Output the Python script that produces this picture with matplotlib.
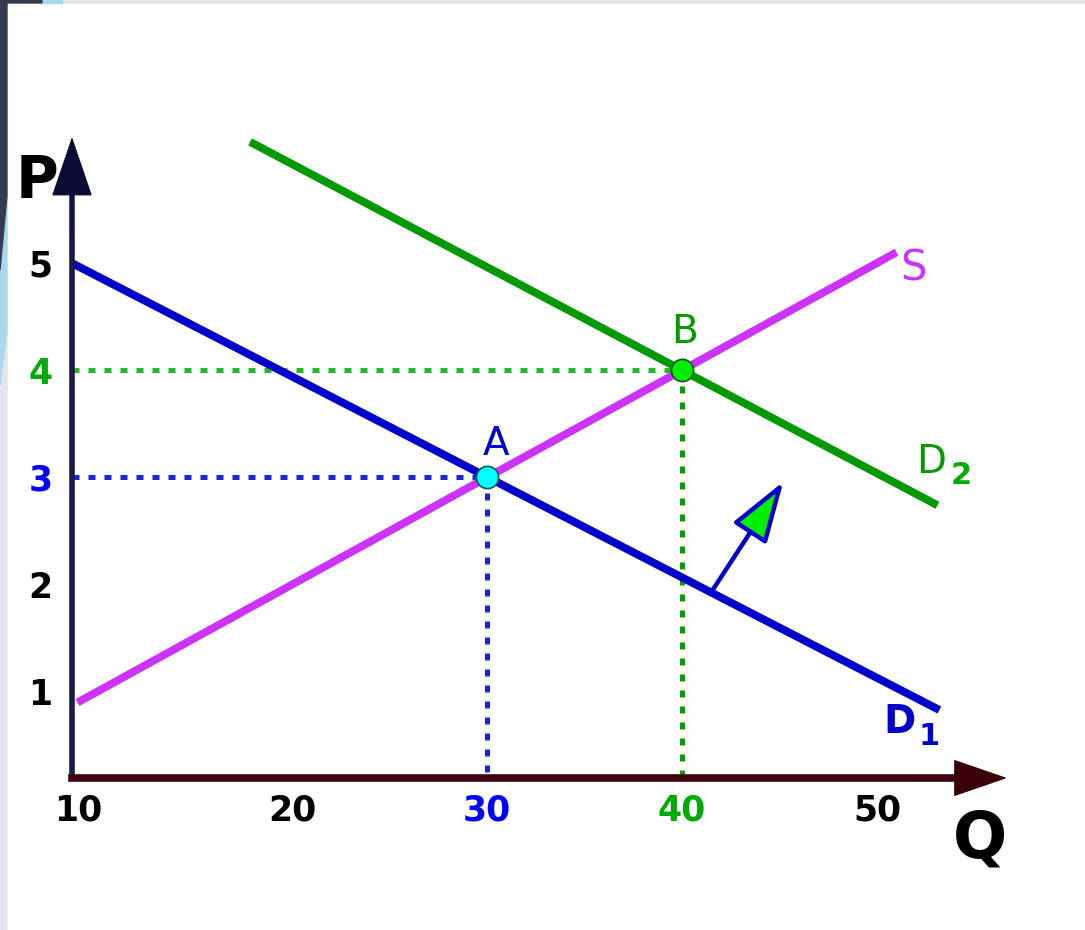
import matplotlib
matplotlib.use("Agg")
import matplotlib.pyplot as plt
from matplotlib.patches import Polygon
from matplotlib.patches import ArrowStyle

plt.rcParams['font.family'] = ['DejaVu Sans']

# ---------------- data ----------------
# Supply S : P = 0.1 Q
S_Q = [9.0, 51.0]
S_P = [0.90, 5.10]
# Demand D1
D1_Q = [8.7, 53.2]
D1_P = [5.0, 0.83]
# Demand D2
D2_Q = [17.85, 53.1]
D2_P = [6.13, 2.74]
# equilibrium points
A_pt = (30, 3)
B_pt = (40, 4)
# shift arrow (from D1 towards D2)
SHIFT_FROM = (41.5, 1.93)
SHIFT_TO = (45.2, 2.96)

X_TICKS = [20, 30, 40, 50]
X_LABELS = ['10', '20', '30', '40', '50']
X_COLORS = ['black', 'black', '#0000ff', '#00aa00', 'black']
Y_TICKS = [1, 2, 3, 4, 5]
Y_LABELS = ['1', '2', '3', '4', '5']
Y_COLORS = ['black', 'black', '#0000ff', '#00aa00', 'black']

W, H = 1085, 930
fig = plt.figure(figsize=(W / 100, H / 100), dpi=100)
fig.patch.set_facecolor('white')

# --- screenshot frame decoration (pixel coords, origin top-left) ---
def px(pts):
    return [(x / W, 1 - y / H) for x, y in pts]

fig.patches.append(Polygon(px([(62, 0), (W, 0), (W, 3), (62, 3)]), closed=True,
                           transform=fig.transFigure, color='#e6e4e9', zorder=0))
fig.patches.append(Polygon(px([(7, 330), (0, 385), (0, H), (7, H)]), closed=True,
                           transform=fig.transFigure, color='#e6e4e9', zorder=0))
fig.patches.append(Polygon(px([(42, 0), (62, 0), (62, 3), (42, 3)]), closed=True,
                           transform=fig.transFigure, color='#a6d8ef', zorder=0))
fig.patches.append(Polygon(px([(7, 195), (7, 330), (0, 385), (0, 270)]), closed=True,
                           transform=fig.transFigure, color='#a6d8ef', zorder=0))
fig.patches.append(Polygon(px([(0, 0), (42, 0), (42, 3), (7, 3), (7, 195), (0, 270)]), closed=True,
                           transform=fig.transFigure, color='#373b50', zorder=0))

# --- axes: plot area in pixels ---
x0_px, x1_px = 72, 1007
y_top_px, y_bot_px = 137, 778
ax = fig.add_axes([x0_px / W, 1 - y_bot_px / H, (x1_px - x0_px) / W, (y_bot_px - y_top_px) / H])
ax.set_facecolor('none')

def q_of(p):
    return 30 + (p - 487) / 19.5

def p_of(p):
    return (799 - p) / 107.2

ax.set_xlim(q_of(x0_px), q_of(x1_px))
ax.set_ylim(p_of(y_bot_px), p_of(y_top_px))
xmin, xmax = ax.get_xlim()
ymin, ymax = ax.get_ylim()

for s in ['top', 'right']:
    ax.spines[s].set_visible(False)
ax.spines['left'].set_color('#1a1a4a')
ax.spines['left'].set_linewidth(4.0)
ax.spines['left'].set_bounds(ymin, p_of(185))
ax.spines['bottom'].set_color('#3f0510')
ax.spines['bottom'].set_linewidth(5.5)
ax.spines['bottom'].set_bounds(xmin, q_of(965))
ax.spines['left'].set_zorder(5)
ax.spines['bottom'].set_zorder(5)

ax.set_xticks([xmin + 0.3] + X_TICKS)
ax.set_xticklabels(X_LABELS)
ax.set_yticks(Y_TICKS)
ax.set_yticklabels(Y_LABELS)
ax.tick_params(axis='both', length=0, labelsize=25)
ax.tick_params(axis='x', pad=11)
ax.tick_params(axis='y', pad=14)
for lab, c in zip(ax.get_xticklabels(), X_COLORS):
    lab.set_color(c)
    lab.set_fontweight('bold')
for lab, c in zip(ax.get_yticklabels(), Y_COLORS):
    lab.set_color(c)
    lab.set_fontweight('bold')

# axis arrowheads
ax.annotate('', xy=(0, 1.0), xytext=(0, 0.85), xycoords='axes fraction',
            arrowprops=dict(arrowstyle=ArrowStyle('-|>', head_length=2.0, head_width=0.68),
                            mutation_scale=20, color='#0a0a35', lw=1.0, shrinkA=0, shrinkB=0),
            zorder=6, annotation_clip=False)
ax.annotate('', xy=(1.0, 0), xytext=(0.9, 0), xycoords='axes fraction',
            arrowprops=dict(arrowstyle=ArrowStyle('-|>', head_length=1.8, head_width=0.62),
                            mutation_scale=20, color='#380008', lw=1.0, shrinkA=0, shrinkB=0),
            zorder=6, annotation_clip=False)

# dotted guide lines
dot = dict(lw=3.6, dashes=(1.4, 1.8), zorder=2, clip_on=False)
ax.plot([xmin, A_pt[0]], [A_pt[1], A_pt[1]], color='#2020e0', **dot)
ax.plot([A_pt[0], A_pt[0]], [A_pt[1], ymin], color='#2020e0', **dot)
ax.plot([xmin, B_pt[0]], [B_pt[1], B_pt[1]], color='#22bb22', **dot)
ax.plot([B_pt[0], B_pt[0]], [B_pt[1], ymin], color='#119911', **dot)

# curves
ax.plot(D1_Q, D1_P, color='#0000cc', lw=5.7, solid_capstyle='butt', zorder=3, clip_on=False)
ax.plot(S_Q, S_P, color='#cc33ff', lw=5.7, solid_capstyle='butt', zorder=3, clip_on=False)
ax.plot(D2_Q, D2_P, color='#009a00', lw=5.7, solid_capstyle='butt', zorder=3, clip_on=False)

# equilibrium points
ax.plot(*A_pt, 'o', ms=16, mfc='#00ffff', mec='#115555', mew=1.2, zorder=4, clip_on=False)
ax.plot(*B_pt, 'o', ms=16, mfc='#00ee00', mec='#115511', mew=1.2, zorder=4, clip_on=False)

# shift arrow
ax.annotate('', xy=SHIFT_TO, xytext=SHIFT_FROM,
            arrowprops=dict(arrowstyle=ArrowStyle('-|>', head_length=1.9, head_width=0.62),
                            mutation_scale=20, facecolor='#00ee00', edgecolor='#0000cc',
                            lw=3.2, shrinkA=0, shrinkB=0),
            zorder=4)

# text labels
tk = dict(ha='center', va='center', clip_on=False, zorder=7)
ax.text(30.46, 3.31, 'A', color='#0000cc', fontsize=28, **tk)
ax.text(40.15, 4.36, 'B', color='#009a00', fontsize=28, **tk)
ax.text(51.85, 4.95, 'S', color='#cc33ff', fontsize=30, **tk)
ax.text(51.13, 0.72, 'D', color='#0000cc', fontsize=28, fontweight='bold', **tk)
ax.text(52.65, 0.58, '1', color='#0000cc', fontsize=22, fontweight='bold', **tk)
ax.text(52.77, 3.14, 'D', color='#009a00', fontsize=28, **tk)
ax.text(54.31, 3.02, '2', color='#00aa00', fontsize=22, fontweight='bold', **tk)
ax.text(6.92, 5.76, 'P', color='black', fontsize=42, fontweight='bold', **tk)
ax.text(55.28, -0.38, 'Q', color='black', fontsize=46, fontweight='bold', **tk)

fig.savefig('out.png', dpi=100)
